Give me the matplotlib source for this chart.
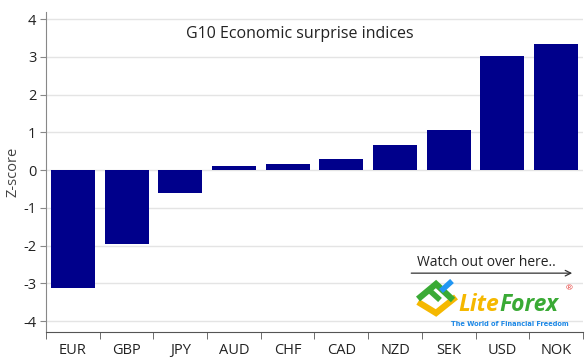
import numpy as np
import matplotlib.pyplot as plt
from matplotlib.lines import Line2D

plt.rcParams['font.family'] = ['Open Sans', 'DejaVu Sans']

currencies = ['EUR', 'GBP', 'JPY', 'AUD', 'CHF', 'CAD', 'NZD', 'SEK', 'USD', 'NOK']
zscores = [-3.12, -1.96, -0.61, 0.11, 0.16, 0.30, 0.66, 1.06, 3.02, 3.34]
yticks = [-4, -3, -2, -1, 0, 1, 2, 3, 4]

fig = plt.figure(figsize=(5.85, 3.59), dpi=100)
ax = fig.add_axes([0.0786, 0.075, 0.918, 0.892])

x = np.arange(len(currencies))
ax.bar(x, zscores, width=0.82, color='#00008b', zorder=2)

ax.set_xlim(-0.5, len(currencies) - 0.5)
ax.set_ylim(-4.29, 4.19)
ax.set_yticks(yticks)
ax.set_yticklabels([str(v) for v in yticks])
ax.set_xticks(x)
ax.set_xticklabels(currencies)
ax.set_xticks(np.arange(len(currencies) + 1) - 0.5, minor=True)
ax.tick_params(axis='x', which='major', length=0, pad=8, labelsize=10.5, labelcolor='#222222')
ax.tick_params(axis='x', which='minor', length=5, color='#555555', direction='out')
ax.tick_params(axis='y', length=4, color='#888888', labelsize=10.5, labelcolor='#222222', pad=3)
ax.grid(axis='y', color='#e4e4e4', linewidth=1, zorder=0)

for s in ['top', 'right']:
    ax.spines[s].set_visible(False)
ax.spines['left'].set_color('#888888')
ax.spines['bottom'].set_color('#555555')

ax.set_ylabel('Z-score', fontsize=10.5, color='#444444', labelpad=2)
ax.text(0.473, 0.93, 'G10 Economic surprise indices', transform=ax.transAxes,
        ha='center', va='center', fontsize=11.5, color='#222222')

# annotation with arrow
ax.annotate('', xy=(0.985, 0.184), xytext=(0.675, 0.184), xycoords='axes fraction',
            arrowprops=dict(arrowstyle='->', color='#333333', lw=0.9))
ax.text(0.69, 0.216, 'Watch out over here..', transform=ax.transAxes,
        ha='left', va='center', fontsize=10, color='#222222')

# logo (decoration, figure pixel coords)
def fline(pts, color, lw):
    xs = [px / 585 for px, py in pts]
    ys = [1 - py / 359 for px, py in pts]
    fig.lines.append(Line2D(xs, ys, color=color, lw=lw, transform=fig.transFigure,
                            solid_capstyle='butt', solid_joinstyle='miter', zorder=5))

fline([(418, 302), (436, 313), (456, 297)], '#f5b800', 4.5)
fline([(418, 299), (436, 284), (453, 300)], '#3aaa35', 4.5)
fline([(429, 290), (440, 300)], '#3aaa35', 4)
fline([(441, 291), (452, 281)], '#2196f3', 4)
fig.text(458 / 585, 1 - 305 / 359, 'Lite', fontsize=16.5, fontweight='bold',
         fontstyle='italic', color='#f5b800', ha='left', va='center')
fig.text(499 / 585, 1 - 305 / 359, 'Forex', fontsize=16.5, fontweight='bold',
         fontstyle='italic', color='#3aaa35', ha='left', va='center')
fig.text(566 / 585, 1 - 289 / 359, '®', fontsize=6, color='#e53935', ha='left', va='center')
fig.text(451 / 585, 1 - 324 / 359, 'The World of Financial Freedom', fontsize=4.8,
         fontweight='bold', color='#1e88e5', ha='left', va='center', family='DejaVu Sans')

fig.savefig('out.png', dpi=100)
